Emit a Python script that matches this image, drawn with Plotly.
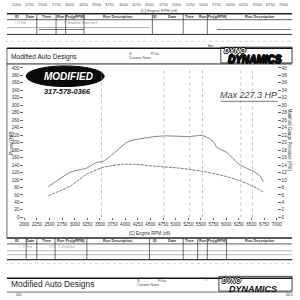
import plotly.graph_objects as go

# ---------------- data (read from the scanned dyno sheet) ----------------
rpm_power = [2477, 2916, 3240, 3431, 3565, 3813, 4061, 4576, 4805, 5053, 5244, 5530, 5663, 5759, 5817, 6007, 6255, 6522, 6675, 6732]
power_hp = [82, 121, 132, 147, 150, 176, 203, 216, 218, 217, 216, 219, 211, 200, 187, 174, 142, 124, 111, 95]

rpm_boost = [2477, 2916, 3240, 3565, 3946, 4194, 4576, 5053, 5492, 5950, 6293, 6522, 6732]
boost_psi = [5.8, 8.4, 11.6, 13.4, 14.2, 14.2, 13.7, 13.2, 12.4, 11.1, 9.7, 8.4, 6.8]

rpm_ticks = list(range(2000, 7001, 250))
hp_ticks = list(range(0, 401, 20))
psi_ticks = list(range(0, 41, 2))
marker_rpm = [3530, 4770, 5280, 5530, 6290, 6520]

table_cols = ["ID", "Date", "Time", "Run Pts(gRPM)", "Run Description"]
shop_name = "Modified Auto Designs"
phone = "317-578-0366"
max_label = "Max 227.3 HP"

FONT = "Liberation Sans"
W = H = 300
OUTLINE = "0.8px 0 0 #000, -0.8px 0 0 #000, 0 0.8px 0 #000, 0 -0.8px 0 #000"


def py(v):
    return 1 - v / H


def px(v):
    return v / W


fig = go.Figure()
fig.add_trace(go.Scatter(x=rpm_power, y=power_hp, mode="lines", yaxis="y",
                         line=dict(color="#666", width=0.8, shape="spline", smoothing=0.6),
                         showlegend=False, hoverinfo="skip"))
fig.add_trace(go.Scatter(x=rpm_boost, y=boost_psi, mode="lines", yaxis="y2",
                         line=dict(color="#555", width=0.8, shape="spline", smoothing=0.6, dash="3px,1px"),
                         showlegend=False, hoverinfo="skip"))

shapes = []
annos = []


def hline(y, x0=2, x1=298, w=1.0, c="#222", dash="solid"):
    shapes.append(dict(type="line", xref="paper", yref="paper", x0=px(x0), x1=px(x1), y0=py(y), y1=py(y),
                       line=dict(color=c, width=w, dash=dash)))


def vline(x, y0, y1, w=0.8, c="#333", dash="solid"):
    shapes.append(dict(type="line", xref="paper", yref="paper", x0=px(x), x1=px(x), y0=py(y0), y1=py(y1),
                       line=dict(color=c, width=w, dash=dash)))


def text(x, y, s, size=4.5, color="#333", anchor="center", angle=0, align="center", **font):
    f = dict(family=FONT, size=size, color=color)
    f.update(font)
    annos.append(dict(x=px(x), y=py(y), xref="paper", yref="paper", text=s, showarrow=False,
                      xanchor=anchor, yanchor="middle", textangle=angle, align=align, font=f,
                      borderpad=0))


def logo(x_left, y_mid, small, big):
    s = ("<b><i><span style='color:white'>DYNO</span><br>"
         "&nbsp;&nbsp;<span style='font-size:%gpx'>DYNAMICS</span></i></b>" % big)
    text(x_left, y_mid, s, size=small, color="#111", anchor="left", align="left", shadow=OUTLINE)


# ---------- top: remains of the previous sheet ----------
for i, t in enumerate(rpm_ticks):
    text(12 + i * (278 / 20), 3, str(t), size=4, color="#555")
text(160, 8.5, "[C] Engine RPM (x8)", size=4, color="#555")
hline(12, w=1.4)
col_x_left = [12, 26, 43, 68, 117]
col_x_right = [156, 173, 192, 216, 265]
for cx, c in zip(col_x_left, table_cols):
    text(cx, 15.3, "<b>" + c + "</b>", size=3.8, color="#333")
for cx, c in zip(col_x_right, table_cols):
    text(cx, 15.3, "<b>" + c + "</b>", size=3.8, color="#333")
hline(18, w=0.8, c="#333")
text(16, 21, "1 17-Feb", size=3, color="#999")
text(60, 21, "5  Simplified  Boost run 3", size=3, color="#888", anchor="left")
hline(26, 2, 150, w=0.6, c="#777")
hline(28, 35, 82, w=0.8, c="#555")
hline(28, 220, 297, w=0.8, c="#555")
hline(33, 2, 298, w=1.0, c="#333")
for x in [33, 53, 63, 82]:
    vline(x, 12, 33, w=0.7)
for x in [153, 185, 210]:
    vline(x, 12, 33, w=0.7)
hline(40, 0, 300, w=0.6, c="#bbb", dash="dot")

# ---------- main sheet header ----------
hline(47, w=1.6, c="#111")
vline(2, 47, 240, w=0.8, c="#444")
text(5, 56, shop_name, size=6.6, color="#222", anchor="left")
text(128, 52.5, "ID", size=3, color="#444", anchor="left")
text(128, 57, "Customer Name", size=3, color="#444", anchor="left")
text(150, 52.5, "Pt#da", size=3, color="#555", anchor="left")
text(213, 45, "Ayp", size=3, color="#555")
shapes.append(dict(type="rect", xref="paper", yref="paper", x0=px(224), x1=px(298), y0=py(62), y1=py(46),
                   line=dict(color="#111", width=0.8), fillcolor="rgba(0,0,0,0)"))
logo(226, 54.5, 7.5, 10)
hline(63, w=1.0, c="#222")

# Modified logo
shapes.append(dict(type="circle", xref="paper", yref="paper", x0=px(22), x1=px(103), y0=py(86), y1=py(65),
                   fillcolor="#0a0a0a", line=dict(color="#0a0a0a", width=1)))
text(66, 75.5, "<b><i>MODIFIED</i></b>", size=10, color="white")
text(65, 91.5, "<b><i>" + phone + "</i></b>", size=7.4, color="#111")

# Max label
text(253, 95, "<i>" + max_label + "</i>", size=9, color="#444")
hline(101, 224, 283, w=1.0, c="#777")

# marker lines in the plot
for r in marker_rpm:
    shapes.append(dict(type="line", xref="x", yref="paper", x0=r, x1=r, y0=py(219), y1=py(67),
                       line=dict(color="#999", width=0.6, dash="dot")))

# axis titles
text(6.5, 143, "Power (HP)", size=4.5, color="#333", angle=-90)
text(295, 140, "Manifold Gauge Pressure (PSI)", size=4.5, color="#333", angle=90)
text(150, 235, "[C] Engine RPM (x8)", size=4.5, color="#333")

# ---------- bottom table ----------
hline(240, w=1.4)
for cx, c in zip(col_x_left, table_cols):
    text(cx, 243.3, "<b>" + c + "</b>", size=3.8, color="#333")
for cx, c in zip(col_x_right, table_cols):
    text(cx, 243.3, "<b>" + c + "</b>", size=3.8, color="#333")
hline(246, w=0.8, c="#333")
text(14, 249.5, "1  17-Feb", size=3, color="#999", anchor="left")
text(45, 249.5, "17:27  5  Simplified", size=3, color="#999", anchor="left")
hline(253, 2, 298, w=0.6, c="#888")
hline(257, 2, 298, w=0.6, c="#888")
hline(262, 2, 298, w=1.2, c="#333")
for x in [22, 33, 52, 85]:
    vline(x, 240, 262, w=0.7)
for x in [150, 185, 200, 210, 230]:
    vline(x, 240, 262, w=0.7)
hline(266, 0, 300, w=0.6, c="#bbb", dash="dot")

# ---------- next sheet ----------
hline(281, w=1.6, c="#111")
text(5, 287, shop_name, size=8.4, color="#222", anchor="left")
text(136, 284, "ID", size=3, color="#444", anchor="left")
text(136, 288, "Customer Name", size=3, color="#444", anchor="left")
text(158, 284, "Pt#da", size=3, color="#555", anchor="left")
text(210, 283, "##", size=3, color="#555")
shapes.append(dict(type="rect", xref="paper", yref="paper", x0=px(222), x1=px(298), y0=py(294), y1=py(279),
                   line=dict(color="#111", width=0.8), fillcolor="rgba(0,0,0,0)"))
text(224, 283.2, "<b><i>DYNO</i></b>", size=6.5, color="white", anchor="left", shadow=OUTLINE)
text(232, 291.6, "<b><i>DYNAMICS</i></b>", size=9, color="#111", anchor="left")
hline(295, w=0.8, c="#444")
text(15, 298, "400", size=3.4, color="#444")
text(299.5, 298.3, "-40.0", size=3.4, color="#444", anchor="right")

fig.update_layout(
    width=W, height=H, margin=dict(l=0, r=0, t=0, b=0),
    paper_bgcolor="white", plot_bgcolor="white",
    font=dict(family=FONT, color="#333"),
    xaxis=dict(domain=[px(20), px(282)], range=[2000, 7000], tickvals=rpm_ticks,
               ticktext=[str(t) for t in rpm_ticks], tickangle=0,
               ticks="outside", ticklen=2, tickcolor="#666", tickfont=dict(size=4.6, color="#333"),
               showgrid=False, zeroline=False, showline=False, fixedrange=True),
    yaxis=dict(domain=[py(219), py(67)], range=[0, 400], tickvals=hp_ticks,
               ticks="outside", ticklen=3, tickcolor="#666", tickfont=dict(size=4.6, color="#333"),
               showgrid=False, zeroline=False, showline=False),
    yaxis2=dict(overlaying="y", side="right", range=[0, 40], tickvals=psi_ticks,
                ticks="outside", ticklen=3, tickcolor="#666", tickfont=dict(size=4.6, color="#333"),
                showgrid=False, zeroline=False, showline=False),
    shapes=shapes, annotations=annos, showlegend=False,
)

fig.write_html("out.html")
